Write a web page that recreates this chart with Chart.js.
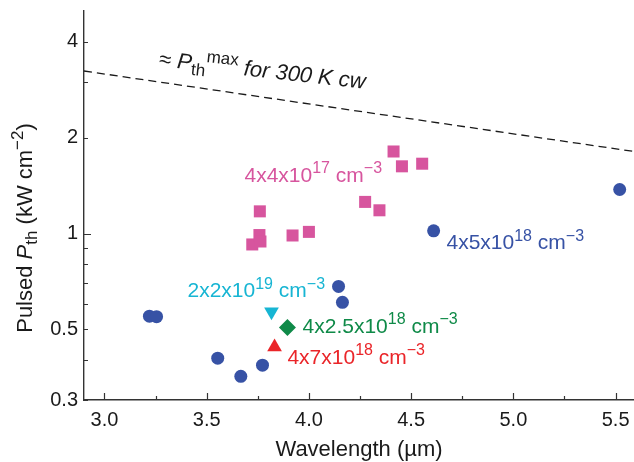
<!DOCTYPE html>
<html><head><meta charset="utf-8">
<script src="https://cdn.jsdelivr.net/npm/chart.js@4"></script>
<style>html,body{margin:0;padding:0;background:#fff;}</style>
</head><body>
<canvas id="c" width="634" height="462"></canvas>
<script>
// ---- data ----
const circleWavelength = [3.22, 3.255, 3.554, 3.667, 3.773, 4.145, 4.164, 4.61, 5.52];
const circlePth        = [0.55, 0.548, 0.406, 0.356, 0.386, 0.682, 0.608, 1.02, 1.375];
const squareWavelength = [3.723, 3.758, 3.763, 3.76, 3.92, 4.0, 4.275, 4.345, 4.414, 4.455, 4.554];
const squarePth        = [0.924, 0.989, 0.944, 1.174, 0.986, 1.012, 1.257, 1.183, 1.81, 1.626, 1.657];
const cyanWavelength = [3.817];
const cyanPth        = [0.568];
const greenWavelength = [3.895];
const greenPth        = [0.507];
const redWavelength = [3.832];
const redPth        = [0.44];
const limitWavelength = [2.9, 5.59];
const limitPth        = [3.24, 1.81];
const xMajorTicks = [3.0, 3.5, 4.0, 4.5, 5.0, 5.5];
const xMinorTicks = [3.25, 3.75, 4.25, 4.75, 5.25];
const yLabelTicks = [0.3, 0.5, 1, 2, 4];
const yMinorTicks = [0.4, 0.6, 0.7, 0.8, 0.9, 3];

// ---- styles ----
const FAMILY = "'Liberation Sans', Arial, Helvetica, sans-serif";
const BLUE = '#3752a5', PINK = '#d7559e', CYAN = '#17b5d3', GREEN = '#0f8a48', RED = '#ea2529';
const AXIS = '#333333';

const zip = (xs, ys) => xs.map((x, i) => ({x, y: ys[i]}));
const near = (a, list) => list.some(v => Math.abs(v - a) < 1e-6);

// annotations: anchor (data coords of text start / baseline) and rich text parts
const notes = [
  {at: [3.685, 1.456], color: PINK, parts: [['4x4x10'], ['17', 'sup'], [' cm'], ['\u22123', 'sup']]},
  {at: [4.673, 0.891], color: BLUE, parts: [['4x5x10'], ['18', 'sup'], [' cm'], ['\u22123', 'sup']]},
  {at: [3.406, 0.630], color: CYAN, parts: [['2x2x10'], ['19', 'sup'], [' cm'], ['\u22123', 'sup']]},
  {at: [3.969, 0.486], color: GREEN, parts: [['4x2.5x10'], ['18', 'sup'], [' cm'], ['\u22123', 'sup']]},
  {at: [3.895, 0.389], color: RED, parts: [['4x7x10'], ['18', 'sup'], [' cm'], ['\u22123', 'sup']]}
];

function partFont(p, base) {
  const kind = p[1] || '';
  const size = (kind.includes('sup') || kind.includes('sub')) ? Math.round(base * 0.75) : base;
  const ital = kind.includes('it') ? 'italic ' : '';
  return {font: ital + size + 'px ' + FAMILY, dy: kind.includes('sup') ? -base * 0.42 : kind.includes('sub') ? base * 0.24 : 0};
}
function richWidth(ctx, parts, base) {
  let w = 0;
  parts.forEach(p => { ctx.font = partFont(p, base).font; w += ctx.measureText(p[0]).width; });
  return w;
}
function drawRich(ctx, parts, base, x, y) {
  ctx.textBaseline = 'alphabetic';
  ctx.textAlign = 'left';
  parts.forEach(p => {
    const f = partFont(p, base);
    ctx.font = f.font;
    ctx.fillText(p[0], x, y + f.dy);
    x += ctx.measureText(p[0]).width;
  });
}

const decorPlugin = {
  id: 'decor',
  afterDatasetsDraw(chart) {
    const {ctx, scales: {x, y}, chartArea: a} = chart;
    ctx.save();
    // inward tick marks
    ctx.strokeStyle = AXIS;
    ctx.lineWidth = 1.2;
    ctx.beginPath();
    const tx = (v, len) => { const px = Math.round(x.getPixelForValue(v)) + 0.5; ctx.moveTo(px, a.bottom); ctx.lineTo(px, a.bottom - len); };
    const ty = (v, len) => { const py = Math.round(y.getPixelForValue(v)) + 0.5; ctx.moveTo(a.left, py); ctx.lineTo(a.left + len, py); };
    xMajorTicks.forEach(v => tx(v, 7));
    xMinorTicks.forEach(v => tx(v, 4));
    yLabelTicks.forEach(v => ty(v, v === 1 ? 7 : 4));
    yMinorTicks.forEach(v => ty(v, 4));
    ctx.stroke();

    // series annotations
    notes.forEach(n => {
      ctx.fillStyle = n.color;
      drawRich(ctx, n.parts, 21, x.getPixelForValue(n.at[0]), y.getPixelForValue(n.at[1]));
    });

    // label of dashed limit line
    ctx.fillStyle = '#1a1a1a';
    ctx.save();
    ctx.translate(x.getPixelForValue(3.264), y.getPixelForValue(3.36));
    ctx.rotate(6.3 * Math.PI / 180);
    drawRich(ctx, [['\u2248 '], ['P', 'it'], ['th', 'sub'], ['max', 'sup'], [' for 300 K cw', 'it']], 22, 0, 0);
    ctx.restore();

    // y axis title
    const yParts = [['Pulsed '], ['P', 'it'], ['th', 'sub'], [' (kW cm'], ['\u22122', 'sup'], [')']];
    const w = richWidth(ctx, yParts, 22);
    ctx.save();
    ctx.translate(32, 228 + w / 2);
    ctx.rotate(-Math.PI / 2);
    ctx.fillStyle = '#1a1a1a';
    drawRich(ctx, yParts, 22, 0, 0);
    ctx.restore();
    ctx.restore();
  }
};

const markerBase = {borderWidth: 0, pointHoverRadius: 0};

new Chart(document.getElementById('c'), {
  type: 'scatter',
  data: {
    datasets: [
      {...markerBase, data: zip(circleWavelength, circlePth), pointStyle: 'circle', pointRadius: 6.5, backgroundColor: BLUE},
      {...markerBase, data: zip(squareWavelength, squarePth), pointStyle: 'rect', pointRadius: 8.5, backgroundColor: PINK},
      {...markerBase, data: zip(cyanWavelength, cyanPth), pointStyle: 'triangle', rotation: 180, pointRadius: 8.5, backgroundColor: CYAN},
      {...markerBase, data: zip(greenWavelength, greenPth), pointStyle: 'rectRot', pointRadius: 8.5, backgroundColor: GREEN},
      {...markerBase, data: zip(redWavelength, redPth), pointStyle: 'triangle', pointRadius: 8.5, backgroundColor: RED},
      {data: zip(limitWavelength, limitPth), showLine: true, pointRadius: 0, borderColor: '#1a1a1a', borderWidth: 1.3, borderDash: [8, 5], fill: false}
    ]
  },
  options: {
    responsive: false,
    animation: false,
    events: [],
    layout: {autoPadding: false, padding: {top: 11, right: 0, left: 0, bottom: 0}},
    plugins: {legend: {display: false}, tooltip: {enabled: false}},
    scales: {
      x: {
        type: 'linear', min: 2.9, max: 5.59,
        afterBuildTicks: s => { s.ticks = xMajorTicks.concat(xMinorTicks).sort((a, b) => a - b).map(v => ({value: v})); },
        afterFit: s => { s.height = 62; s.paddingLeft = 0; s.paddingRight = 0; },
        grid: {display: false, drawTicks: false},
        border: {display: true, color: AXIS, width: 1.4},
        ticks: {autoSkip: false, maxRotation: 0, padding: 8, color: '#1a1a1a', font: {family: FAMILY, size: 20},
          callback: v => near(v, xMajorTicks) ? v.toFixed(1) : ''},
        title: {display: true, text: 'Wavelength (\u00b5m)', color: '#1a1a1a', font: {family: FAMILY, size: 22, lineHeight: 1}, padding: {top: 0, bottom: 1}}
      },
      y: {
        type: 'logarithmic', min: 0.3, max: 5,
        afterBuildTicks: s => { s.ticks = yLabelTicks.concat(yMinorTicks).sort((a, b) => a - b).map(v => ({value: v})); },
        afterFit: s => { s.width = 84; s.paddingTop = 0; s.paddingBottom = 0; },
        grid: {display: false, drawTicks: false},
        border: {display: true, color: AXIS, width: 1.4},
        ticks: {autoSkip: false, padding: 6, color: '#1a1a1a', font: {family: FAMILY, size: 20},
          callback: v => near(v, yLabelTicks) ? String(v) : ''}
      }
    }
  },
  plugins: [decorPlugin]
});
</script>
</body></html>
